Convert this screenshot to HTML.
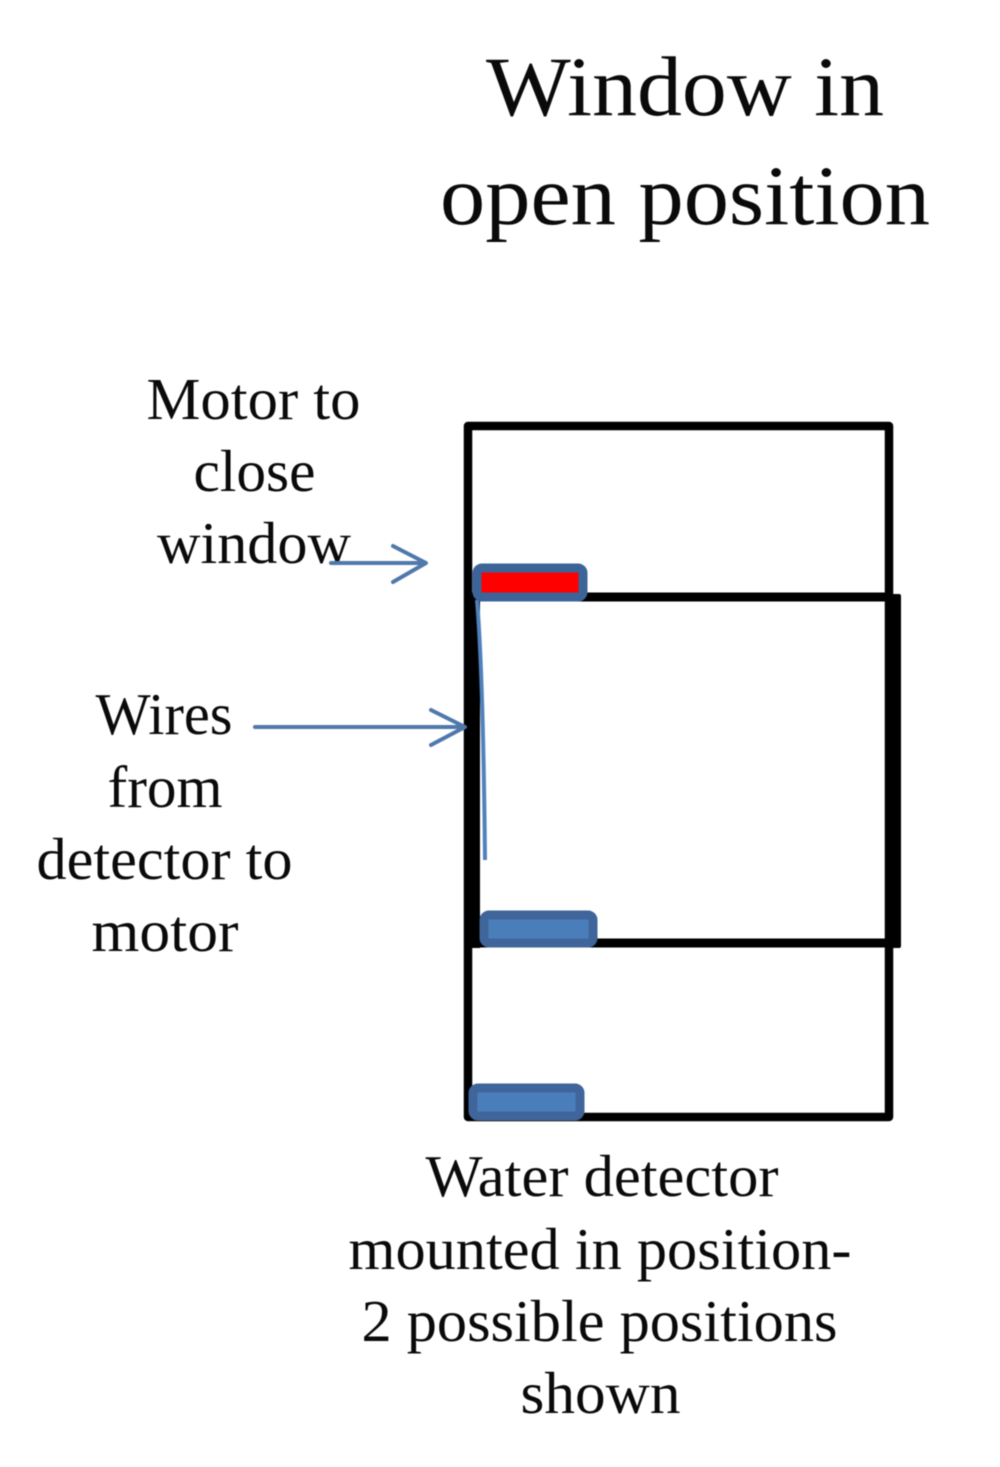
<!DOCTYPE html>
<html><head><meta charset="utf-8">
<style>
html,body{margin:0;padding:0;background:#fff}
svg{display:block;filter:blur(.6px)}
text{font-family:"Liberation Serif",serif;fill:#0a0a0a;text-anchor:middle}
.t{font-size:85px}
.l{font-size:59px}
</style></head>
<body>
<svg width="1000" height="1467" viewBox="0 0 1000 1467" xmlns="http://www.w3.org/2000/svg">
<rect width="1000" height="1467" fill="#fff"/>
<text class="t" x="685" y="115" textLength="398" lengthAdjust="spacingAndGlyphs">Window in</text>
<text class="t" x="685" y="224" textLength="490" lengthAdjust="spacingAndGlyphs">open position</text>
<text class="l" x="253.5" y="419" textLength="214" lengthAdjust="spacingAndGlyphs">Motor to</text>
<text class="l" x="254.5" y="491" textLength="122" lengthAdjust="spacingAndGlyphs">close</text>
<text class="l" x="254" y="563" textLength="194" lengthAdjust="spacingAndGlyphs">window</text>
<text class="l" x="164" y="734" textLength="137" lengthAdjust="spacingAndGlyphs">Wires</text>
<text class="l" x="165" y="807" textLength="115" lengthAdjust="spacingAndGlyphs">from</text>
<text class="l" x="164.5" y="879" textLength="256" lengthAdjust="spacingAndGlyphs">detector to</text>
<text class="l" x="165" y="951" textLength="147" lengthAdjust="spacingAndGlyphs">motor</text>
<text class="l" x="602" y="1196" textLength="353" lengthAdjust="spacingAndGlyphs">Water detector</text>
<text class="l" x="600" y="1269" textLength="503" lengthAdjust="spacingAndGlyphs">mounted in position-</text>
<text class="l" x="599.5" y="1341" textLength="476" lengthAdjust="spacingAndGlyphs">2 possible positions</text>
<text class="l" x="600.5" y="1413" textLength="160" lengthAdjust="spacingAndGlyphs">shown</text>
<rect x="468" y="426" width="421" height="691" fill="none" stroke="#000" stroke-width="8.5" stroke-linejoin="round"/>
<path d="M472 597H893" stroke="#000" stroke-width="9" fill="none"/>
<path d="M472 943H899" stroke="#000" stroke-width="9" fill="none"/>
<rect x="466" y="597" width="14" height="351" fill="#000"/>
<rect x="886" y="594" width="15" height="354" rx="2" fill="#000"/>
<path d="M477 600C482 660 484 760 485 860" stroke="#4f81bd" stroke-width="4" fill="none"/>
<rect x="477" y="568" width="106" height="29" rx="5" fill="#ff0000" stroke="#3c6499" stroke-width="9"/>
<rect x="484" y="915" width="109" height="28" rx="5" fill="#4a7ebb" stroke="#3f659b" stroke-width="9"/>
<rect x="473" y="1088" width="107" height="28" rx="5" fill="#4a7ebb" stroke="#3f659b" stroke-width="9"/>
<g stroke="#4f78ab" stroke-width="4" fill="none" stroke-linecap="round" stroke-linejoin="round">
<path d="M331 563H425M393 546L426 563L393 582"/>
<path d="M255 727H464M431 710L465 727L431 745"/>
</g>
</svg>
</body></html>
